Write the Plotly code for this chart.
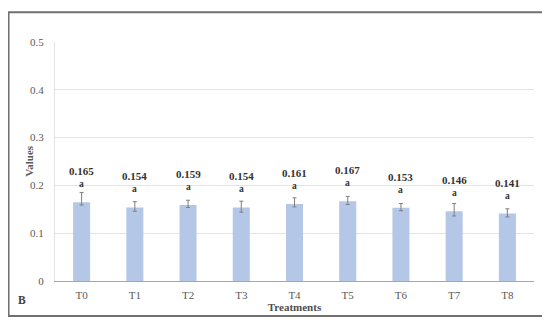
import plotly.graph_objects as go

categories = ["T0", "T1", "T2", "T3", "T4", "T5", "T6", "T7", "T8"]
values = [0.165, 0.154, 0.159, 0.154, 0.161, 0.167, 0.153, 0.146, 0.141]
err_plus = [0.020, 0.012, 0.010, 0.013, 0.013, 0.010, 0.009, 0.016, 0.010]
err_minus = [0.006, 0.008, 0.005, 0.010, 0.006, 0.007, 0.006, 0.010, 0.007]
letters = ["a"] * 9
labels = [f"{v:.3f}" for v in values]

font_family = "Liberation Serif, DejaVu Serif, serif"

fig = go.Figure()
fig.add_trace(go.Bar(
    x=categories, y=values,
    marker=dict(color="#b4c7e7", line=dict(width=0)),
    width=0.32,
    error_y=dict(type="data", array=err_plus, arrayminus=err_minus,
                 color="#7f7f7f", thickness=1, width=2),
))

for c, v, lab, let in zip(categories, values, labels, letters):
    fig.add_annotation(x=c, y=v, text=f"<b>{lab}</b>", showarrow=False,
                       yshift=31, font=dict(family=font_family, size=11, color="#333333"))
    fig.add_annotation(x=c, y=v, text=f"<b>{let}</b>", showarrow=False,
                       yshift=18, font=dict(family=font_family, size=9.5, color="#333333"))

# panel letter
fig.add_annotation(xref="paper", yref="paper", x=-0.069, y=-0.08, text="<b>B</b>",
                   xanchor="center", yanchor="middle", showarrow=False,
                   font=dict(family=font_family, size=11.5, color="#404040"))

# y axis title
fig.add_annotation(xref="paper", yref="paper", x=-0.056, y=0.5, text="<b>Values</b>",
                   xanchor="center", yanchor="middle", textangle=-90, showarrow=False,
                   font=dict(family=font_family, size=11, color="#595959"))

# outer frame
fig.add_shape(type="rect", xref="paper", yref="paper",
              x0=-0.097, x1=1.019, y0=-0.146, y1=1.125,
              line=dict(color="#707070", width=2))

fig.update_layout(
    width=542, height=317,
    margin=dict(l=47, r=16, t=34, b=44),
    paper_bgcolor="white", plot_bgcolor="white",
    showlegend=False,
    bargap=0.68,
    font=dict(family=font_family, size=11, color="#595959"),
    xaxis=dict(
        title=dict(text="<b>Treatments</b>", standoff=2,
                   font=dict(family=font_family, size=11, color="#4d4d4d")),
        automargin=False,
        showline=True, linecolor="#a6a6a6", linewidth=1,
        ticks="", ticklabelstandoff=4,
        tickfont=dict(family=font_family, size=11, color="#595959"),
    ),
    yaxis=dict(
        automargin=False,
        range=[0, 0.5], dtick=0.1, tickformat="~g",
        showgrid=True, gridcolor="#e3e3e3", gridwidth=1,
        showline=True, linecolor="#e3e3e3", linewidth=1,
        zeroline=False, ticks="", ticklabelstandoff=8,
        tickfont=dict(family=font_family, size=11, color="#595959"),
    ),
)

fig.write_html("out.html")
